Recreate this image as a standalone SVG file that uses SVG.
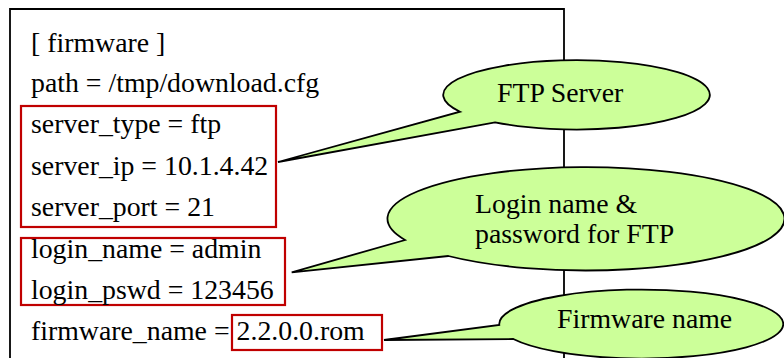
<svg xmlns="http://www.w3.org/2000/svg" width="784" height="358" viewBox="0 0 784 358">
  <style>
    .frame { fill: none; stroke: #000; stroke-width: 1.8; }
    .hl { fill: none; stroke: #c00000; stroke-width: 2.2; }
    .callout { fill: #ccff99; stroke: #000; stroke-width: 1.8; stroke-linejoin: miter; }
  </style>

  <!-- config file frame (open at the bottom) -->
  <g id="config-frame">
    <path class="frame" d="M10 358 V9 H564 V358"/>
  </g>

  <!-- highlighted groups of settings -->
  <g id="highlights">
    <rect id="hl-server" class="hl" x="21" y="106" width="255" height="121"/>
    <rect id="hl-login" class="hl" x="21" y="238" width="264" height="67"/>
    <rect id="hl-firmware" class="hl" x="232" y="315" width="150" height="35"/>
  </g>

  <!-- config file lines -->
  <g id="config-text" font-family="Liberation Serif, serif" font-size="27.8" fill="#000">
    <text x="31" y="52">[ firmware ]</text>
    <text x="31" y="92">path = /tmp/download.cfg</text>
    <text x="31" y="133">server_type = ftp</text>
    <text x="31" y="175">server_ip = 10.1.4.42</text>
    <text x="31" y="216">server_port = 21</text>
    <text x="31" y="258">login_name = admin</text>
    <text x="31" y="299">login_pswd = 123456</text>
    <text x="31" y="340">firmware_name = 2.2.0.0.rom</text>
  </g>

  <!-- callout balloons: ellipse body with a pointer tail -->
  <g id="connectors">
    <path id="tail-ftp" class="callout" d="M460 111.7 A133.3 34.7 0 1 1 495 122.3 L278 162 Z"/>
    <path id="tail-login" class="callout" d="M405 240 A198.5 51.7 0 1 1 448.3 256 L291.7 272.3 Z"/>
    <path id="tail-fw" class="callout" d="M499.3 325 A142 34.5 0 1 1 513.3 339 L384 340 Z"/>
  </g>

  <g id="callout-ftp" font-family="Liberation Serif, serif" font-size="27.8">
    <text x="497" y="101.7">FTP Server</text>
  </g>
  <g id="callout-login" font-family="Liberation Serif, serif" font-size="27.8">
    <text x="475" y="213.3">Login name &amp;</text>
    <text x="475" y="242.7">password for FTP</text>
  </g>
  <g id="callout-fw" font-family="Liberation Serif, serif" font-size="27.8">
    <text x="557" y="328.3">Firmware name</text>
  </g>
</svg>
